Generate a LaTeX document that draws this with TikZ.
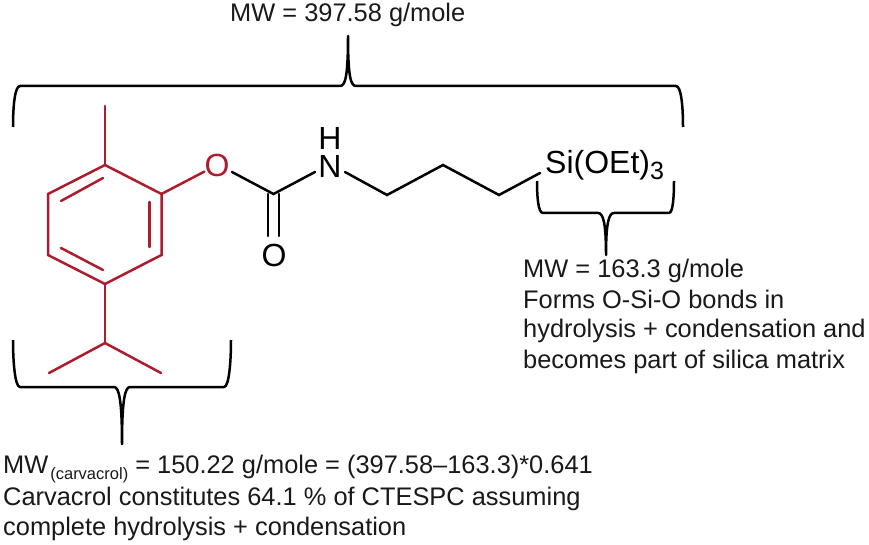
\documentclass[tikz,border=0pt]{standalone}
\usepackage{fontspec}
\setmainfont{Liberation Sans}
\definecolor{ringred}{RGB}{172,28,44}
\tikzset{
  x=1pt,y=-1pt,
  bondk/.style={line width=2.5pt,black,line cap=round},
  bondr/.style={line width=2.5pt,ringred,line cap=round,line join=miter},
  brace/.style={line width=2.5pt,black,line join=round},
  atom/.style={font=\fontsize{32}{32}\selectfont,inner sep=0pt},
  lbl/.style={font=\fontsize{25.4}{28}\selectfont,inner sep=0pt,anchor=base west,text=black!90},
}
\begin{document}
\begin{tikzpicture}
\useasboundingbox (0,0) rectangle (869,545);
% atoms
\coordinate (me) at (105,106);
\coordinate (a1) at (105,165);
\coordinate (a2) at (161.5,194);
\coordinate (a3) at (161.5,255);
\coordinate (a4) at (105,284);
\coordinate (a5) at (48,255);
\coordinate (a6) at (48,194);
\coordinate (ip) at (105,343);
\coordinate (ip1) at (49,373);
\coordinate (ip2) at (161,373);
\coordinate (c) at (273.5,194);
\coordinate (c1) at (387,195);
\coordinate (c2) at (443,165);
\coordinate (c3) at (499,195);
\node[atom,text=ringred] (o1) at (217,165) {O};
\node[atom] (n) at (330,166) {N};
\node[atom] (h) at (330,138) {H};
\node[atom] (o2) at (274,255) {O};
\node[atom,anchor=west] (si) at (545,165) {Si(OEt)\raisebox{-6pt}{\fontsize{25}{25}\selectfont 3}};
% red part
\draw[bondr] (a1) -- (a2) -- (a3) -- (a4) -- (a5) -- (a6) -- cycle;
\draw[bondr] (me) -- (a1);
\draw[bondr] (a4) -- (ip);
\draw[bondr] (ip) -- (ip1);
\draw[bondr] (ip) -- (ip2);
\draw[bondr] (149.5,202) -- (149.5,247);
\draw[bondr] (61,201) -- (103,178);
\draw[bondr] (61,248) -- (103,270);
\draw[bondr] (a2) -- (o1);
% black part
\draw[bondk] (232,172) -- (c) -- (315,172);
\draw[bondk] (345,172) -- (c1) -- (c2) -- (c3) -- (540,173);
\draw[bondk] (268,194) -- (268,236);
\draw[bondk] (279,194) -- (279,236);
% braces
\coordinate (t) at (348,36);
\draw[brace] (13,127) .. controls (13,105) and (15,86) .. (20,86) -- (340,86)
  .. controls (345,86) and (348,78) .. (t)
  .. controls (348,78) and (351,86) .. (356,86) -- (676,86)
  .. controls (681,86) and (683,105) .. (683,127);
\coordinate (t2) at (606,255);
\draw[brace] (537,181) .. controls (537,196) and (538,213) .. (543,213) -- (598,213)
  .. controls (603,213) and (606,222) .. (t2)
  .. controls (606,222) and (609,213) .. (614,213) -- (669,213)
  .. controls (673,213) and (674,196) .. (674,181);
\coordinate (t3) at (122,444);
\draw[brace] (13,340) .. controls (13,362) and (15,387) .. (20,387) -- (114,387)
  .. controls (119,387) and (122,400) .. (t3)
  .. controls (122,400) and (125,387) .. (130,387) -- (224,387)
  .. controls (229,387) and (231,362) .. (231,340);
% texts
\node[lbl] (t0) at (230,22) {MW = 397.58 g/mole};
\node[lbl] (r1) at (523,277) {MW = 163.3 g/mole};
\node[lbl] (r2) at (523,308) {Forms O-Si-O bonds in};
\node[lbl] (r3) at (523,337) {hydrolysis + condensation and};
\node[lbl] (r4) at (523,368) {becomes part of silica matrix};
\node[lbl] (b1) at (3,473) {MW\kern2pt\raisebox{-6pt}{\fontsize{16.5}{16.5}\selectfont (carvacrol)} = 150.22 g/mole = (397.58–163.3)*0.641};
\node[lbl] (b2) at (3,505) {Carvacrol constitutes 64.1 \% of CTESPC assuming};
\node[lbl] (b3) at (3,535) {complete hydrolysis + condensation};
\end{tikzpicture}
\end{document}
